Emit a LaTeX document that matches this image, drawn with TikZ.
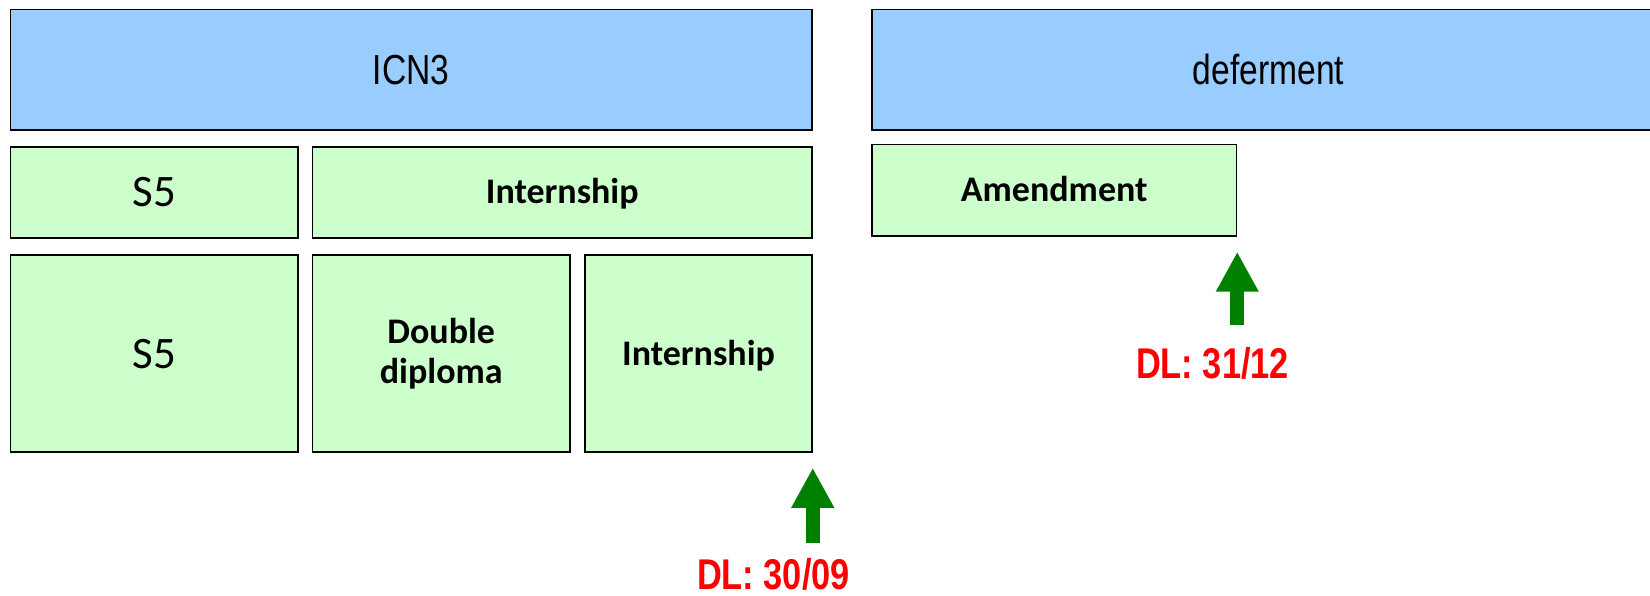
\documentclass[tikz,border=0pt]{standalone}
\usepackage{fontspec}
\setmainfont{Carlito}
\newfontfamily\narrowfont[FakeStretch=0.8]{Liberation Sans}
\usetikzlibrary{positioning,calc,arrows.meta}
\definecolor{boxblue}{HTML}{99CCFF}
\definecolor{boxgreen}{HTML}{CCFFCC}
\definecolor{arrowgreen}{HTML}{008000}

\begin{document}
\begin{tikzpicture}[x=1pt,y=-1pt,line width=1.5pt,
    year box/.style={draw,fill=boxblue,minimum width=801.5pt,minimum height=120.5pt,font=\narrowfont\fontsize{42}{50}\selectfont,text height=30pt,text depth=0pt},
    row box/.style={draw,fill=boxgreen,minimum height=91pt,inner sep=0pt},
    tall box/.style={row box,minimum height=197pt},
    plain label/.style={font=\fontsize{45}{54}\selectfont,text height=29pt,text depth=0pt},
    bold label/.style={font=\bfseries\fontsize{36}{40}\selectfont,text height=23pt,text depth=0pt},
    deadline/.style={arrowgreen,line width=14pt,-{Triangle[width=40pt,length=40pt]}},
    dl label/.style={text=red,font=\narrowfont\bfseries\fontsize{43}{50}\selectfont,inner sep=0pt,anchor=base}]
    \useasboundingbox (0,0) rectangle (1650,596);

    % years
    \node[year box] (icn) at (411.25,69.75) {ICN3};
    \node[year box,minimum width=793pt] (def) [right=58.5pt of icn] {deferment};

    % first path
    \node[row box,plain label,minimum width=287.5pt] (s5a) at (154.25,192.5) {S5};
    \node[row box,bold label,minimum width=499.5pt] (inta) [right=13pt of s5a] {Internship};

    % second path
    \node[tall box,plain label,minimum width=287.5pt] (s5b) at (154.25,353.5) {S5};
    \node[tall box,minimum width=257.5pt,align=center,font=\bfseries\fontsize{36}{40}\selectfont] (dd) [right=13pt of s5b] {Double\\diploma};
    \node[tall box,bold label,minimum width=227pt] (intb) [right=13.5pt of dd] {Internship};

    % deferred year
    \node[row box,bold label,minimum width=364.5pt,minimum height=91.5pt] (amd) at (1054.25,190.25) {Amendment};

    % deadlines
    \node[dl label] (dl1) at (773.5,589) {DL: 30/09};
    \node[dl label] (dl2) at (1212.5,378) {DL: 31/12};
    \draw[deadline] ($(dl1.north -| intb.south east)+(0,-14)$) -- ($(intb.south east)+(0,15)$);
    \draw[deadline] ($(dl2.north -| amd.south east)+(0,-21)$) -- ($(amd.south east)+(0,15)$);
\end{tikzpicture}
\end{document}
